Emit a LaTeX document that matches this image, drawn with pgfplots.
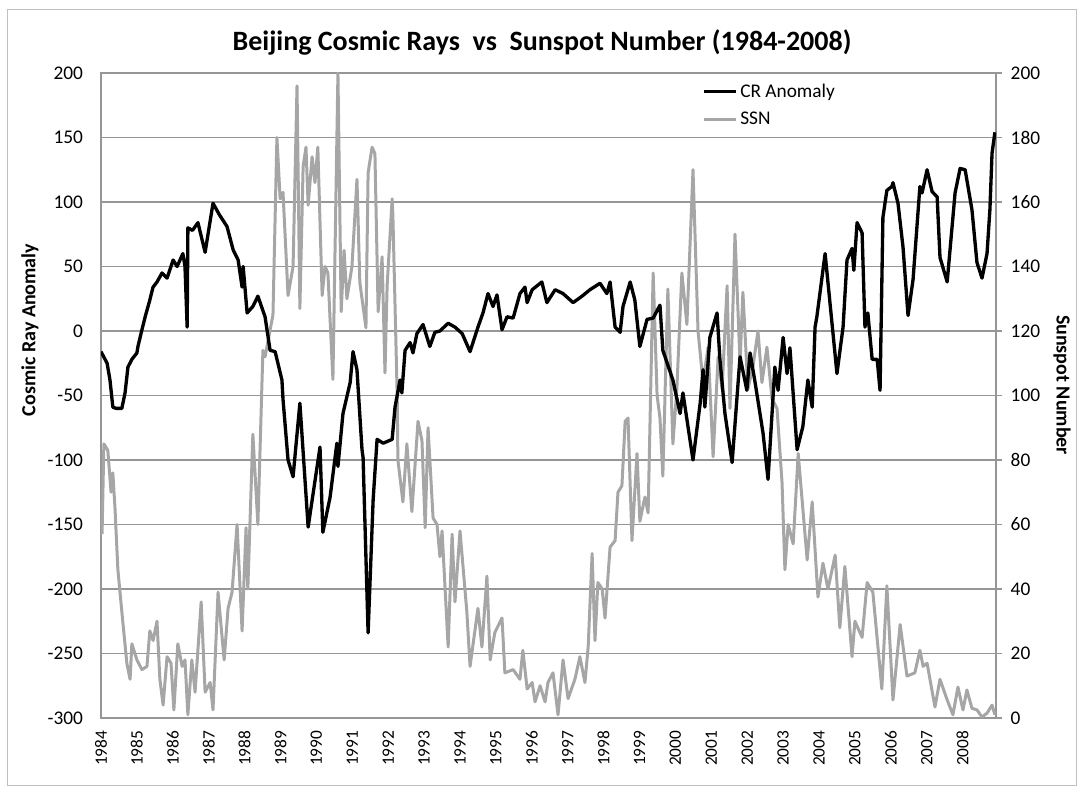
\documentclass[border=0pt]{standalone}
\usepackage{pgfplots}
\pgfplotsset{compat=1.18}
\usepackage{pgfplotstable}
\usepackage{fontspec}
\setmainfont{Carlito}
\definecolor{ssngray}{RGB}{166,166,166}
\definecolor{gridgray}{RGB}{150,150,150}

\pgfplotstableread{
t v
1984.00 -16
1984.17 -25
1984.25 -38
1984.33 -59
1984.42 -60
1984.58 -60
1984.67 -48
1984.75 -28
1984.86 -22
1985.00 -17
1985.03 -12
1985.14 1
1985.23 11
1985.36 24
1985.45 34
1985.56 38
1985.70 45
1985.84 41
1986.01 55
1986.12 50
1986.28 60
1986.34 50
1986.40 3
1986.42 80
1986.55 78
1986.70 84
1986.90 61
1987.12 99
1987.30 90
1987.51 81
1987.68 63
1987.82 55
1987.93 34
1987.96 50
1988.07 14
1988.23 19
1988.37 27
1988.57 11
1988.71 -15
1988.85 -16
1989.04 -38
1989.07 -53
1989.21 -100
1989.35 -113
1989.54 -56
1989.77 -152
1990.10 -90
1990.18 -156
1990.38 -129
1990.57 -87
1990.60 -105
1990.74 -64
1990.94 -40
1991.02 -16
1991.13 -30
1991.27 -92
1991.30 -98
1991.44 -234
1991.58 -131
1991.69 -84
1991.86 -87
1992.11 -84
1992.19 -59
1992.33 -38
1992.38 -48
1992.47 -15
1992.61 -9
1992.69 -17
1992.80 -2
1992.97 5
1993.16 -12
1993.30 -1
1993.44 0
1993.67 6
1993.86 3
1994.06 -2
1994.28 -16
1994.50 3
1994.64 14
1994.78 29
1994.92 19
1995.03 28
1995.17 1
1995.31 11
1995.48 10
1995.67 29
1995.81 34
1995.87 22
1996.01 32
1996.28 38
1996.42 22
1996.65 32
1996.87 29
1997.15 22
1997.40 27
1997.62 32
1997.90 37
1998.09 29
1998.18 38
1998.32 3
1998.46 -1
1998.54 19
1998.74 38
1998.87 24
1999.01 -12
1999.21 9
1999.38 10
1999.57 20
1999.65 -15
1999.93 -38
2000.13 -64
2000.21 -48
2000.49 -100
2000.69 -56
2000.77 -30
2000.82 -59
2000.96 -5
2001.16 14
2001.24 -22
2001.38 -64
2001.58 -102
2001.80 -20
2001.99 -46
2002.08 -17
2002.22 -40
2002.44 -79
2002.58 -115
2002.77 -28
2002.86 -46
2003.00 -5
2003.11 -33
2003.19 -13
2003.39 -92
2003.55 -74
2003.69 -38
2003.81 -59
2003.89 3
2003.94 11
2004.17 60
2004.50 -33
2004.67 3
2004.78 55
2004.92 64
2004.97 47
2005.06 84
2005.20 76
2005.28 3
2005.36 14
2005.48 -22
2005.62 -22
2005.70 -46
2005.78 88
2005.89 109
2006.03 112
2006.06 115
2006.20 99
2006.34 65
2006.48 12
2006.62 40
2006.81 112
2006.87 107
2007.01 125
2007.15 108
2007.29 104
2007.37 57
2007.57 38
2007.79 107
2007.93 126
2008.07 125
2008.26 94
2008.40 53
2008.54 41
2008.68 60
2008.76 94
2008.82 138
2008.90 154
}\crdata

\pgfplotstableread{
t s
1984.03 57
1984.08 85
1984.19 83
1984.28 70
1984.33 76
1984.39 65
1984.47 46
1984.58 33
1984.72 17
1984.81 12
1984.86 23
1985.00 18
1985.14 15
1985.28 16
1985.36 27
1985.45 24
1985.56 30
1985.64 12
1985.73 4
1985.84 19
1985.95 17
1986.03 2.5
1986.14 23
1986.26 16
1986.34 18
1986.42 1
1986.53 18
1986.62 8
1986.79 36
1986.90 8
1987.04 11
1987.12 2.5
1987.26 39
1987.43 18
1987.54 34
1987.65 39
1987.79 60
1987.93 27
1988.04 59
1988.09 40
1988.23 88
1988.37 60
1988.51 114
1988.57 112
1988.79 125
1988.90 180
1988.99 161
1989.07 163
1989.21 131
1989.35 140
1989.46 196
1989.54 127
1989.63 171
1989.71 177
1989.77 159
1989.88 174
1989.96 166
1990.04 177
1990.16 131
1990.24 140
1990.32 138
1990.46 105
1990.60 200
1990.69 126
1990.77 145
1990.85 130
1990.99 140
1991.13 167
1991.21 135
1991.38 121
1991.44 169
1991.55 177
1991.63 175
1991.72 126
1991.83 143
1991.91 107
1991.97 134
1992.11 161
1992.13 156
1992.25 100
1992.27 80
1992.41 67
1992.52 85
1992.66 64
1992.83 92
1992.94 86
1993.03 59
1993.11 90
1993.25 62
1993.36 60
1993.44 50
1993.50 58
1993.67 22
1993.78 57
1993.86 36
1994.00 58
1994.19 33
1994.28 16
1994.50 34
1994.61 22
1994.75 44
1994.84 18
1994.97 26.5
1995.17 31
1995.25 14
1995.48 15
1995.67 12
1995.75 21
1995.87 9
1996.01 11
1996.09 5
1996.23 10
1996.37 5
1996.45 11
1996.59 14
1996.73 1
1996.87 18
1997.01 6
1997.20 12
1997.34 19
1997.48 11
1997.57 22
1997.68 51
1997.76 24
1997.84 42
1997.96 40
1998.04 31
1998.18 53
1998.32 55
1998.40 70
1998.51 72
1998.60 92
1998.68 93
1998.79 55
1998.93 82
1999.01 61
1999.15 68.5
1999.24 63.6
1999.38 138
1999.49 100
1999.57 93
1999.65 75
1999.79 133
1999.93 85
2000.04 102
2000.18 138
2000.32 122
2000.49 170
2000.63 120
2000.77 104
2000.91 115
2001.05 81
2001.19 112
2001.30 102
2001.44 134
2001.52 96
2001.66 150
2001.80 110
2001.88 132
2002.02 102
2002.16 109
2002.30 120
2002.41 104
2002.55 115
2002.69 99
2002.83 96
2002.97 73
2003.05 46
2003.14 60
2003.28 54
2003.42 82
2003.67 49
2003.81 67
2003.97 37.5
2004.11 48
2004.25 40
2004.45 50.5
2004.58 28
2004.72 47
2004.92 19
2005.00 30
2005.20 25
2005.34 42
2005.50 39
2005.75 9
2005.89 41
2006.06 5.6
2006.26 29
2006.45 13
2006.67 14
2006.81 21
2006.90 16
2007.01 17
2007.23 3.4
2007.37 12
2007.57 5.6
2007.73 1
2007.87 9.6
2008.01 2.5
2008.12 8.7
2008.26 3
2008.40 2.5
2008.54 0.3
2008.68 1.5
2008.82 4
2008.90 1
}\ssndata

\begin{document}
\begin{tikzpicture}
\path[use as bounding box] (-75.75pt,-55.5pt) rectangle (736.5pt,538.5pt);
\draw[gridgray!60, line width=0.75pt] (-69.75pt,-51pt) rectangle (731.25pt,531pt);

% secondary axis: sunspot number (right)
\begin{axis}[
  at={(0pt,0pt)}, anchor=south west,
  scale only axis, width=671.25pt, height=483.75pt,
  xmin=1984, xmax=2008.93, ymin=0, ymax=200,
  xtick=\empty,
  ytick={0,20,...,200},
  ytick pos=right,
  ymajorgrids,
  grid style={gridgray, line width=1pt},
  axis line style={gridgray, line width=1pt},
  tick style={gridgray, line width=1pt},
  tick align=outside, major tick length=4.5pt,
  /pgf/number format/assume math mode=true,
  y tick label style={font=\fontsize{14.5}{16}\selectfont, xshift=3pt},
]
\addplot[ssngray, line width=2.25pt, line join=round] table[x=t, y=s] {\ssndata};
\end{axis}

% primary axis: cosmic ray anomaly (left)
\begin{axis}[
  at={(0pt,0pt)}, anchor=south west,
  scale only axis, width=671.25pt, height=483.75pt,
  xmin=1984, xmax=2008.93, ymin=-300, ymax=200,
  ytick={-300,-250,...,200},
  xtick={1984,1985,...,2008},
  ytick pos=left, xtick pos=bottom,
  axis line style={draw=none},
  major tick length=0pt,
  /pgf/number format/assume math mode=true,
  /pgf/number format/1000 sep={},
  x tick label style={rotate=90, anchor=east, font=\fontsize{13}{15}\selectfont, xshift=-6pt},
  y tick label style={font=\fontsize{14.5}{16}\selectfont, xshift=-10pt},
  legend style={at={(0.6715,0.988)}, anchor=north west, draw=none, fill=none,
    font=\fontsize{14.5}{16}\selectfont, row sep=6pt, inner sep=0pt},
  legend cell align=left,
  legend image code/.code={\draw[#1] (0pt,0pt) -- (24pt,0pt);},
]
\addplot[black, line width=2.5pt, line join=round] table[x=t, y=v] {\crdata};
\addlegendentry{CR Anomaly}
\addlegendimage{ssngray, line width=2.25pt}
\addlegendentry{SSN}
\end{axis}

\node[font=\fontsize{21}{24}\selectfont\bfseries] at (330.75pt,507pt) {Beijing Cosmic Rays\ \ vs\ \ Sunspot Number (1984-2008)};
\node[rotate=90, font=\fontsize{15}{17}\selectfont\bfseries] at (-53.25pt,291pt) {Cosmic Ray Anomaly};
\node[rotate=-90, font=\fontsize{15}{17}\selectfont\bfseries] at (720.75pt,249.75pt) {Sunspot Number};
\end{tikzpicture}
\end{document}
